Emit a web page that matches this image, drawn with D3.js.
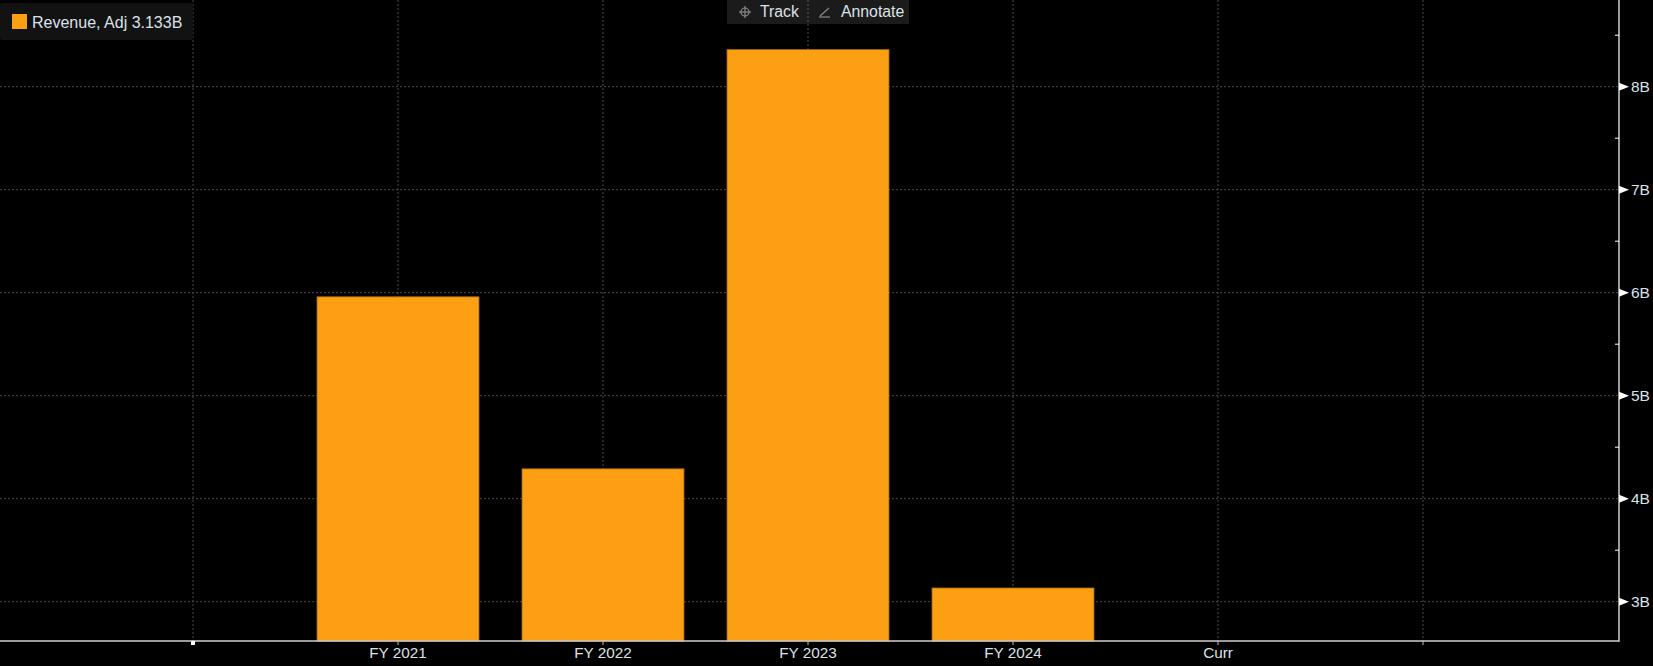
<!DOCTYPE html>
<html><head><meta charset="utf-8">
<script src="https://cdn.jsdelivr.net/npm/d3@7/dist/d3.min.js"></script>
<style>html,body{margin:0;padding:0;background:#000;overflow:hidden}</style>
</head><body>
<svg id="c" width="1653" height="666"></svg>
<script>
const slots = ["s0", "FY 2021", "FY 2022", "FY 2023", "FY 2024", "Curr", "s6"];
const slotLabels = ["", "FY 2021", "FY 2022", "FY 2023", "FY 2024", "Curr", ""];
const categories = ["FY 2021", "FY 2022", "FY 2023", "FY 2024"];
const revenue = [5.96, 4.29, 8.36, 3.133];
const yTicks = [3, 4, 5, 6, 7, 8];
const yMinor = [3.5, 4.5, 5.5, 6.5, 7.5, 8.5];
const legendLabel = "Revenue, Adj 3.133B";

const W = 1653, H = 666;
const plotR = 1619, plotB = 641;
const svg = d3.select("#c");
svg.append("rect").attr("width", W).attr("height", H).attr("fill", "#000");

const x = d3.scalePoint().domain(slots).range([193, 1423]);
const step = x.step();
const barW = step * 0.79;
const y = d3.scaleLinear().domain([3, 8]).range([601.7, 86.7]);

const font = "'Liberation Sans', Arial, sans-serif";
const txt = "#dde1e7";
const grid = "#4a4a4a";

// gridlines
svg.append("g").selectAll("line").data(yTicks).join("line")
  .attr("x1", 0).attr("x2", plotR).attr("y1", d => y(d)).attr("y2", d => y(d))
  .attr("stroke", grid).attr("stroke-width", 1).attr("stroke-dasharray", "2,2");
svg.append("g").selectAll("line").data(slots).join("line")
  .attr("x1", d => x(d)).attr("x2", d => x(d)).attr("y1", 0).attr("y2", plotB)
  .attr("stroke", grid).attr("stroke-width", 1).attr("stroke-dasharray", "2,2");

// bars
svg.append("g").selectAll("rect").data(categories).join("rect")
  .attr("x", d => x(d) - barW / 2).attr("width", barW)
  .attr("y", (d, i) => y(revenue[i])).attr("height", (d, i) => plotB - y(revenue[i]))
  .attr("fill", "#fd9f13").attr("stroke", "#a56a10").attr("stroke-width", 0.8);

// axes lines
svg.append("line").attr("x1", 0).attr("x2", plotR).attr("y1", plotB).attr("y2", plotB)
  .attr("stroke", "#cfcfcf").attr("stroke-width", 1.5);
svg.append("line").attr("x1", plotR).attr("x2", plotR).attr("y1", 0).attr("y2", plotB + 0.75)
  .attr("stroke", "#cfcfcf").attr("stroke-width", 1.5);

// x ticks
svg.append("g").selectAll("line").data(slots.slice(1)).join("line")
  .attr("x1", d => x(d)).attr("x2", d => x(d)).attr("y1", plotB).attr("y2", plotB + 4)
  .attr("stroke", "#bdbdbd").attr("stroke-width", 1);
svg.append("rect").attr("x", x("s0") - 2).attr("y", plotB).attr("width", 4).attr("height", 4).attr("fill", "#fff");
svg.append("g").selectAll("text").data(slots).join("text")
  .attr("x", d => x(d)).attr("y", 658).attr("text-anchor", "middle")
  .attr("font-family", font).attr("font-size", 15.3).attr("fill", txt)
  .text((d, i) => slotLabels[i]);

// y ticks
svg.append("g").selectAll("path").data(yTicks).join("path")
  .attr("d", d => `M${plotR},${y(d) - 4} L${plotR + 10},${y(d)} L${plotR},${y(d) + 4} Z`)
  .attr("fill", "#fff");
svg.append("g").selectAll("line").data(yMinor).join("line")
  .attr("x1", plotR - 4).attr("x2", plotR).attr("y1", d => y(d)).attr("y2", d => y(d))
  .attr("stroke", "#fff").attr("stroke-width", 1);
svg.append("g").selectAll("text").data(yTicks).join("text")
  .attr("x", 1631).attr("y", d => y(d) + 5.5)
  .attr("font-family", font).attr("font-size", 15.5).attr("fill", txt)
  .text(d => d + "B");

// legend
svg.append("rect").attr("x", 0).attr("y", 3).attr("width", 193).attr("height", 37)
  .attr("fill", "#121212").attr("rx", 2);
svg.append("rect").attr("x", 12).attr("y", 14).attr("width", 15).attr("height", 15).attr("fill", "#fd9f13");
svg.append("text").attr("x", 32).attr("y", 28).attr("font-family", font).attr("font-size", 16)
  .attr("fill", txt).text(legendLabel);

// Track / Annotate
svg.append("rect").attr("x", 727).attr("y", 0).attr("width", 182).attr("height", 24).attr("fill", "#1b1b1b");
svg.append("line").attr("x1", x("FY 2023")).attr("x2", x("FY 2023")).attr("y1", 0).attr("y2", 24)
  .attr("stroke", "#555").attr("stroke-dasharray", "2,2");
const ic = svg.append("g").attr("stroke", "#8a8a8a").attr("stroke-width", 1.2).attr("fill", "none");
ic.append("circle").attr("cx", 745).attr("cy", 12).attr("r", 4);
ic.append("line").attr("x1", 739).attr("x2", 751).attr("y1", 12).attr("y2", 12);
ic.append("line").attr("x1", 745).attr("x2", 745).attr("y1", 6).attr("y2", 18);
ic.append("line").attr("x1", 820).attr("x2", 829).attr("y1", 16).attr("y2", 8);
ic.append("line").attr("x1", 819).attr("x2", 830).attr("y1", 17).attr("y2", 17);
svg.append("text").attr("x", 760).attr("y", 17).attr("font-family", font).attr("font-size", 15.8)
  .attr("fill", txt).text("Track");
svg.append("text").attr("x", 841).attr("y", 17).attr("font-family", font).attr("font-size", 15.8)
  .attr("fill", txt).text("Annotate");
</script>
</body></html>
